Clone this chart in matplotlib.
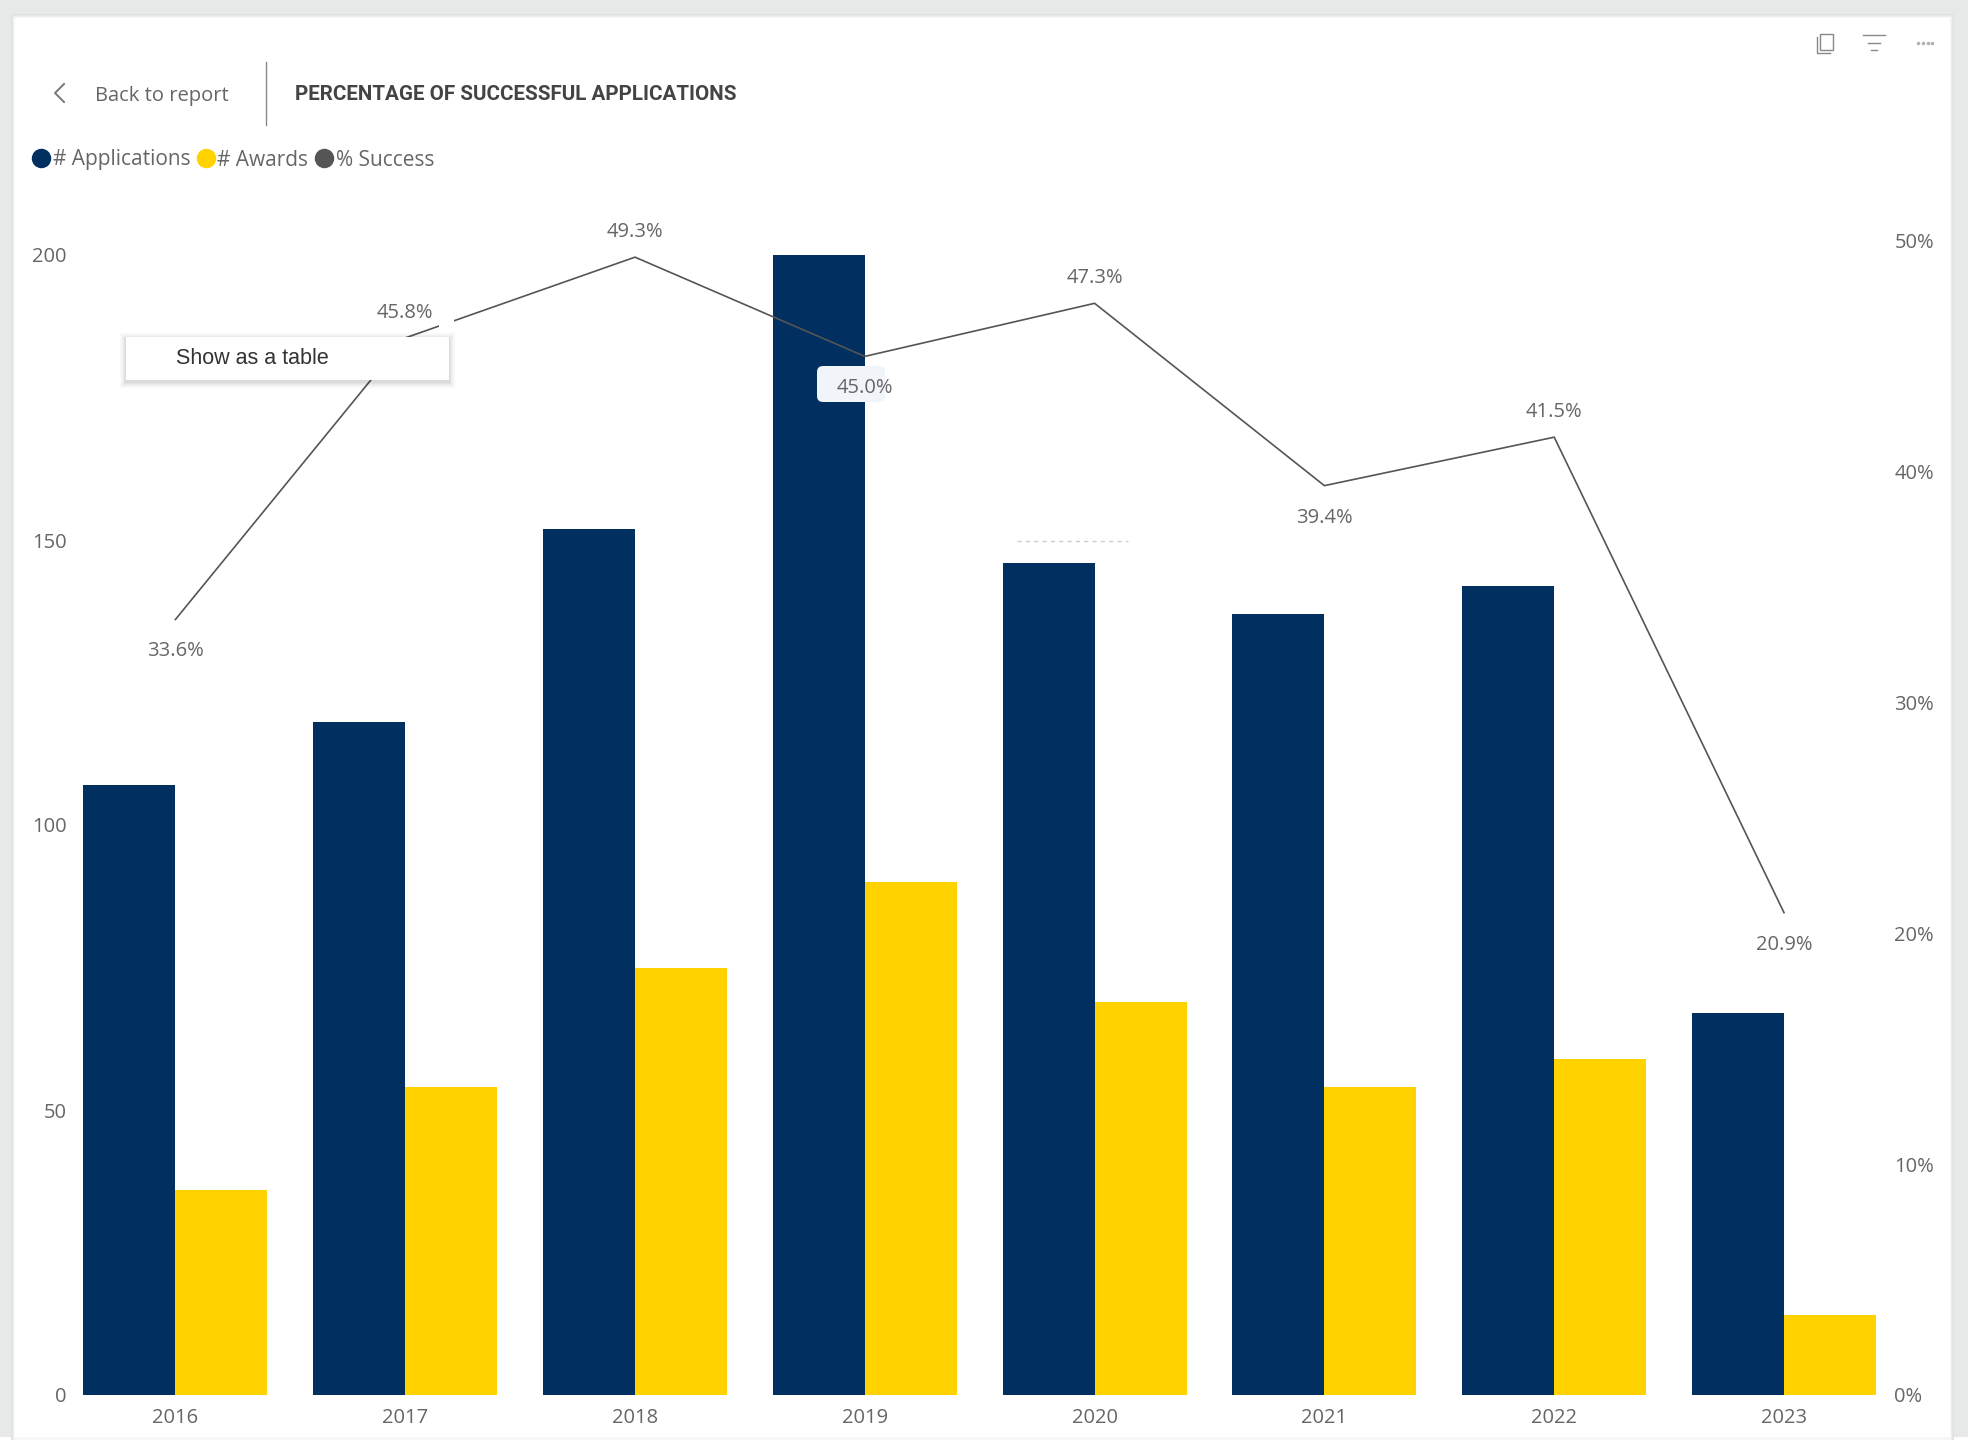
import matplotlib
matplotlib.use("Agg")
import matplotlib.pyplot as plt
from matplotlib.lines import Line2D
from matplotlib.patches import FancyBboxPatch, Rectangle

# Grant application figures by year
years = ["2016", "2017", "2018", "2019", "2020", "2021", "2022", "2023"]
applications = [107, 118, 152, 200, 146, 137, 142, 67]
awards = [36, 54, 75, 90, 69, 54, 59, 14]
success_pct = [33.6, 45.8, 49.3, 45.0, 47.3, 39.4, 41.5, 20.9]
success_labels = ["33.6%", "45.8%", "49.3%", "45.0%", "47.3%", "39.4%", "41.5%", "20.9%"]
label_above = [False, True, True, False, True, False, True, False]
count_ticks = [0, 50, 100, 150, 200]
pct_ticks = [0, 10, 20, 30, 40, 50]

NAVY = "#002F60"
YELLOW = "#FFD200"
GREY = "#555555"
TEXT = "#666666"
FONT = "Open Sans"
W, H = 1972, 1440

plt.rcParams["font.family"] = FONT
fig = plt.figure(figsize=(W / 100, H / 100), dpi=100, facecolor="white")


def pixel_axes(zorder):
    a = fig.add_axes([0, 0, 1, 1], zorder=zorder)
    a.set_xlim(0, W)
    a.set_ylim(H, 0)
    a.axis("off")
    a.patch.set_alpha(0)
    return a


# Report page behind the visual
back = pixel_axes(0)
back.add_patch(Rectangle((0, 0), 1968, 1437, fc="#E7E8E8", ec="none"))
for i, c in enumerate(["#DFE0E0", "#E6E7E7", "#EFEFEF", "#F7F7F7"]):
    back.add_patch(Rectangle((15 - 4 + i, 18 - 4 + i), 1935 + 8 - 2 * i, 1440,
                             fc=c, ec="none"))
back.add_patch(Rectangle((15, 18), 1935, 1419, fc="white", ec="none"))

# Plot area: bars on the count axis, line on the percentage axis
left, right, bottom, top = 60.5, 1898.9, 1395, 200
ax = fig.add_axes([left / W, 1 - bottom / H, (right - left) / W, (bottom - top) / H], zorder=1)
ax.patch.set_alpha(0)
x = list(range(len(years)))
bar_w = 0.4
ax.bar([v - bar_w / 2 for v in x], applications, bar_w, color=NAVY)
ax.bar([v + bar_w / 2 for v in x], awards, bar_w, color=YELLOW)
ax.set_xlim(-0.5, len(years) - 0.5)
ax.set_ylim(0, (bottom - top) / 5.7)
ax.set_xticks(x, years)
ax.set_yticks(count_ticks)
ax.tick_params(axis="x", length=0, pad=9.5, labelsize=14.5, labelcolor=TEXT)
ax.tick_params(axis="y", length=0, pad=-4.2, labelsize=14.5, labelcolor=TEXT)
for s in ax.spines.values():
    s.set_visible(False)

ax2 = ax.twinx()
ax2.set_zorder(2)
ax2.patch.set_alpha(0)
ax2.plot(x, success_pct, color=GREY, lw=1.2, solid_joinstyle="miter", zorder=2)
ax2.set_ylim(0, (bottom - top) / 23.08)
ax2.set_yticks(pct_ticks, [f"{t}%" for t in pct_ticks])
ax2.tick_params(axis="y", length=0, pad=-3.2, labelsize=14.5, labelcolor=TEXT)
for s in ax2.spines.values():
    s.set_visible(False)

# Everything drawn in screen pixels above the plot
front = pixel_axes(3)

# Highlight behind the 2019 label
ax2.add_patch(FancyBboxPatch((821, 370), 60, 28, boxstyle="round,pad=4,rounding_size=6",
                             transform=front.transData, fc="#F1F5FA", ec="none",
                             clip_on=False, zorder=3))
for xi, yi, txt, up in zip(x, success_pct, success_labels, label_above):
    ax2.annotate(txt, (xi, yi), xytext=(0, 18 if up else -23), textcoords="offset points",
                 ha="center", va="center", fontsize=14.5, color=TEXT, zorder=4,
                 annotation_clip=False)

# Legend
handles = [Line2D([], [], ls="none", marker="o", ms=13, color=c) for c in (NAVY, YELLOW, GREY)]
ax2.legend(handles, ["# Applications", "# Awards", "% Success"], ncol=3, frameon=False,
           loc="center left", bbox_to_anchor=(35 / W, 1 - 160 / H),
           bbox_transform=fig.transFigure, borderpad=0, borderaxespad=0, handlelength=0.6,
           handletextpad=0.25, columnspacing=0.45, fontsize=15, labelcolor=TEXT)

# Header
front.plot([64, 55, 64], [84, 93, 102], color="#777777", lw=1.4)
front.text(95, 96, "Back to report", fontsize=14.5, color=TEXT, va="center")
front.plot([266, 266], [62, 125], color="#888888", lw=1.0)
front.text(295, 95, "PERCENTAGE OF SUCCESSFUL APPLICATIONS", family="Roboto", weight="bold",
           fontsize=14.85, color="#444444", va="center")

# Visual header icons
front.add_patch(Rectangle((1820, 34), 13, 16, fc="white", ec="#888888", lw=1))
front.plot([1817, 1817, 1830], [37, 53, 53], color="#888888", lw=1)
for y0, x0, x1 in [(35, 1863, 1885), (43, 1868, 1880), (50, 1871, 1877)]:
    front.plot([x0, x1], [y0, y0], color="#888888", lw=1)
front.plot([1918, 1923, 1928, 1932], [43, 43, 43, 43], ls="none", marker="o", ms=1.5, color="#B0B0B0")

# Faint dashed trace above the 2020 bar
front.plot([1017, 1128], [541, 541], color="#CCCCCC", lw=1, ls=(0, (3, 3)))

# Gap in the line beside the context menu
front.add_patch(Rectangle((439, 318), 15, 14, fc="white", ec="none"))

# Context menu with a soft shadow
for i, a in zip(range(7, 0, -1), [0.008, 0.012, 0.016, 0.02, 0.025, 0.03, 0.035]):
    front.add_patch(Rectangle((126 - i, 337 - i + 2), 323 + 2 * i, 43 + 2 * i, fc="black", ec="none", alpha=a))
front.add_patch(Rectangle((126, 337), 323, 43, fc="white", ec="none"))
front.text(176, 359, "Show as a table", family="Liberation Sans", fontsize=15.5, color="#333333", va="center")

fig.savefig("out.png", dpi=100, facecolor="white")
